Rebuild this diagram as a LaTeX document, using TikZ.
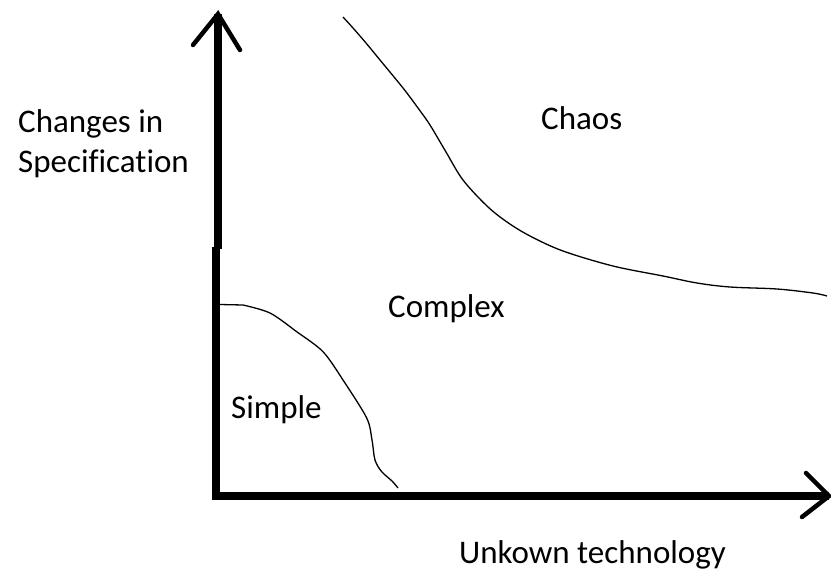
\documentclass[tikz,border=0pt]{standalone}
\usepackage{fontspec}
\setmainfont{Carlito}[Ligatures=NoCommon]
\begin{document}
\begin{tikzpicture}[x=1pt,y=-1pt,
  axis/.style={line width=7.5pt,line cap=butt},
  barb/.style={line width=4.5pt,line cap=round},
  border/.style={line width=1.3pt,line join=round},
  lbl/.style={anchor=base west,inner sep=0pt,font=\fontsize{33}{40}\selectfont}]
\useasboundingbox[fill=white] (0,0) rectangle (831,571);

% axes
\coordinate (origin) at (212,496);
\coordinate (ytop) at (218,14);
\coordinate (xend) at (829,496);
\draw[axis] (216,499.5) -- (216,247);
\draw[axis] (218,249) -- (ytop);
\draw[axis] (origin) -- (xend);
% arrow barbs
\draw[barb] (193,45) -- (ytop) -- (240,50);
\draw[barb] (806,473) -- (xend) -- (802,517);

% region boundaries
\draw[border] (220,304.5) -- (243,305) plot[smooth,tension=0.5] coordinates {
  (243,305) (270,313) (296.7,331.7) (323,351.7) (343,380) (366.7,418)
  (372,440) (375,460) (381.7,471.7) (392,481) (398,488)};
\draw[border] plot[smooth,tension=0.55] coordinates {
  (343,17) (353,28) (366,43) (380,60) (403,88) (418,108) (430,125)
  (446,152) (463,180) (487,206) (507,222) (530,236) (563,251) (613,266)
  (663,276) (697,283) (730,287) (777,289) (813,293) (827,296)};

% labels
\node[lbl] (yl1) at (18,132) {Changes in};
\node[lbl] (yl2) at (18,172) {Specification};
\node[lbl] (xl) at (459,563) {Unkown technology};
\node[lbl] (chaos) at (541,129) {Chaos};
\node[lbl] (complex) at (388,317) {Complex};
\node[lbl] (simple) at (231,418) {Simple};
\end{tikzpicture}
\end{document}
